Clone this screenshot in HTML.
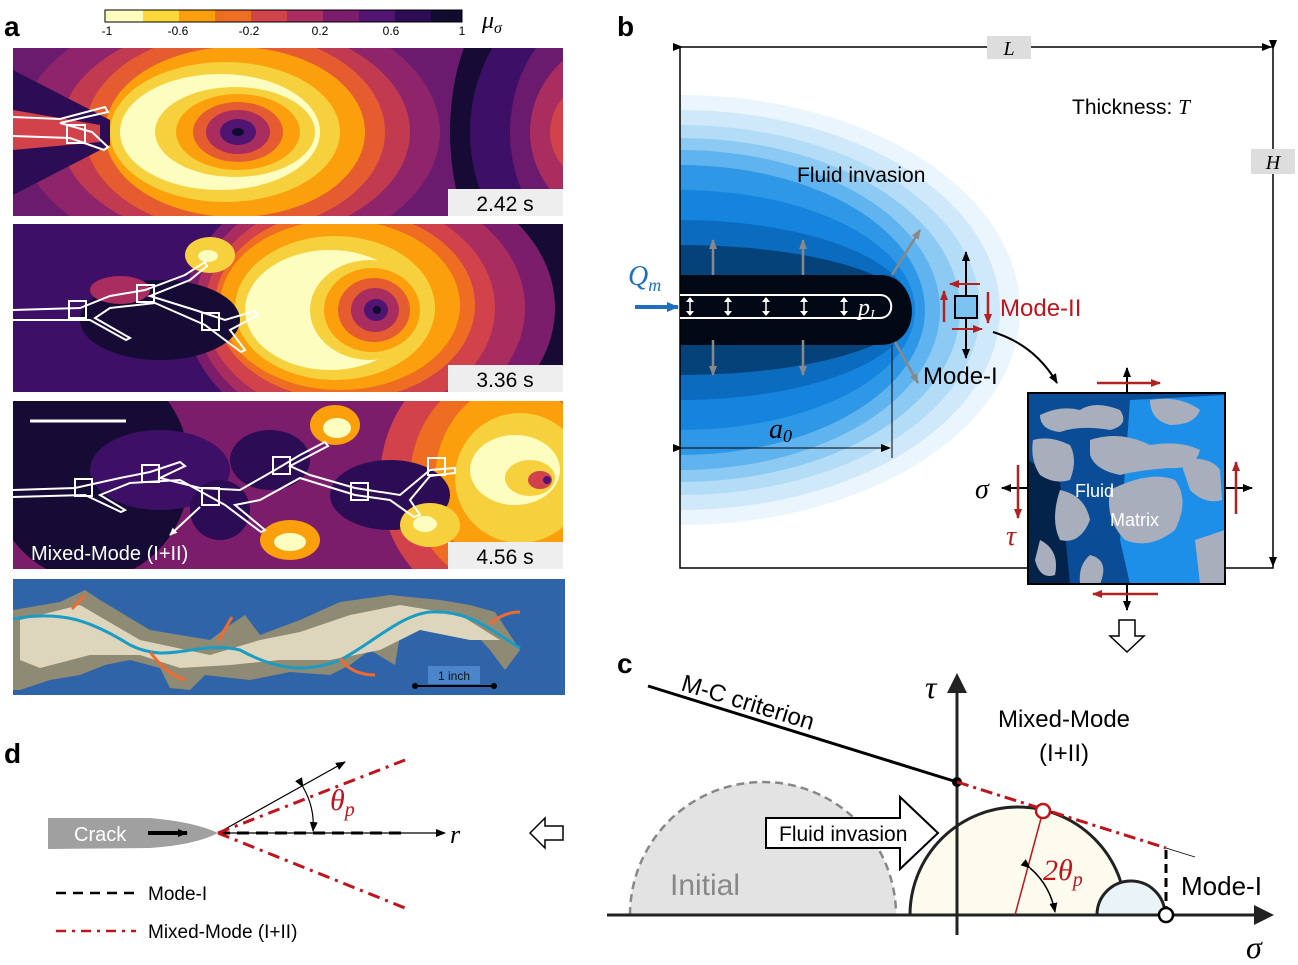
<!DOCTYPE html>
<html><head><meta charset="utf-8"><style>
html,body{margin:0;padding:0;background:#fff;}
svg{display:block;font-family:"Liberation Sans",sans-serif;}
.it{font-family:"Liberation Serif",serif;font-style:italic;}
</style></head><body>
<svg width="1298" height="965" viewBox="0 0 1298 965" xmlns="http://www.w3.org/2000/svg">
<defs>
<marker id="ah" markerWidth="10" markerHeight="8" refX="9" refY="4" orient="auto" markerUnits="userSpaceOnUse"><path d="M0,0 L10,4 L0,8 z" fill="#000"/></marker>
<marker id="ahr" markerWidth="10" markerHeight="8" refX="9" refY="4" orient="auto" markerUnits="userSpaceOnUse"><path d="M0,0 L10,4 L0,8 z" fill="#b22222"/></marker>
<marker id="ahg" markerWidth="10" markerHeight="8" refX="9" refY="4" orient="auto" markerUnits="userSpaceOnUse"><path d="M0,0 L10,4 L0,8 z" fill="#888"/></marker>
<marker id="ahw" markerWidth="8" markerHeight="7" refX="7" refY="3.5" orient="auto" markerUnits="userSpaceOnUse"><path d="M0,0 L8,3.5 L0,7 z" fill="#fff"/></marker>
<marker id="ahb" markerWidth="12" markerHeight="10" refX="11" refY="5" orient="auto" markerUnits="userSpaceOnUse"><path d="M0,0 L12,5 L0,10 z" fill="#1f6fc0"/></marker>
<clipPath id="c1"><rect x="13" y="48" width="550" height="168"/></clipPath>
<clipPath id="c2"><rect x="13" y="224" width="550" height="168"/></clipPath>
<clipPath id="c3"><rect x="13" y="401" width="550" height="168"/></clipPath>
<clipPath id="cb"><rect x="680" y="47" width="593" height="521"/></clipPath>
</defs>

<!-- panel a -->
<text x="4" y="36" font-size="28" font-weight="bold">a</text>
<g>
<rect x="105" y="10" width="38" height="12" fill="#fcfdbf"/>
<rect x="143" y="10" width="36" height="12" fill="#fbd73a"/>
<rect x="179" y="10" width="36" height="12" fill="#fba00c"/>
<rect x="215" y="10" width="36" height="12" fill="#ef6c23"/>
<rect x="251" y="10" width="36" height="12" fill="#d1424a"/>
<rect x="287" y="10" width="36" height="12" fill="#a92d5f"/>
<rect x="323" y="10" width="36" height="12" fill="#7c1d6c"/>
<rect x="359" y="10" width="36" height="12" fill="#501570"/>
<rect x="395" y="10" width="36" height="12" fill="#2c0d55"/>
<rect x="431" y="10" width="31" height="12" fill="#120b30"/>
<rect x="105" y="10" width="357" height="12" fill="none" stroke="#000" stroke-width="1"/>
<g font-size="12" text-anchor="middle"><text x="107" y="35">-1</text><text x="178" y="35">-0.6</text><text x="249" y="35">-0.2</text><text x="320" y="35">0.2</text><text x="391" y="35">0.6</text><text x="462" y="35">1</text></g>
<text x="482" y="28" font-size="24" class="it">μ<tspan font-size="16" dy="5">σ</tspan></text>
</g>

<!-- a1 -->
<g clip-path="url(#c1)">
<rect x="13" y="48" width="550" height="168" fill="#6b1b6e"/>
<ellipse cx="520" cy="132" rx="70" ry="140" fill="#150b35"/>
<ellipse cx="600" cy="132" rx="130" ry="150" fill="#3d0f66"/>
<ellipse cx="620" cy="132" rx="110" ry="130" fill="#6b1b6e"/>
<ellipse cx="640" cy="132" rx="110" ry="100" fill="#a92d5f"/>
<ellipse cx="650" cy="132" rx="100" ry="70" fill="#d1424a"/>
<ellipse cx="655" cy="132" rx="90" ry="45" fill="#ef6c23"/>
<ellipse cx="665" cy="132" rx="85" ry="20" fill="#fba00c"/>
<ellipse cx="230" cy="132" rx="210" ry="130" fill="#8e2469"/>
<ellipse cx="235" cy="132" rx="175" ry="110" fill="#c13a50"/>
<ellipse cx="235" cy="132" rx="150" ry="100" fill="#e55c30"/>
<ellipse cx="235" cy="132" rx="130" ry="85" fill="#fba00c"/>
<ellipse cx="225" cy="132" rx="115" ry="70" fill="#f7d13d"/>
<ellipse cx="220" cy="132" rx="100" ry="58" fill="#fcfdbf"/>
<ellipse cx="235" cy="132" rx="80" ry="45" fill="#f7d13d"/>
<ellipse cx="238" cy="132" rx="62" ry="38" fill="#fba00c"/>
<ellipse cx="238" cy="132" rx="45" ry="30" fill="#e55c30"/>
<ellipse cx="238" cy="132" rx="32" ry="22" fill="#a92d5f"/>
<ellipse cx="238" cy="132" rx="18" ry="13" fill="#501570"/>
<ellipse cx="238" cy="132" rx="6" ry="4" fill="#120b30"/>
<path d="M13,70 L110,120 L110,145 L13,195 Z" fill="#2c0d55"/>
<path d="M13,110 L100,125 L100,142 L13,150 Z" fill="#d1424a"/>
<path d="M13,117 L60,119 L105,107 L108,112 L60,123 L92,132 L108,147 L104,150 L70,138 L13,136" fill="none" stroke="#fff" stroke-width="2"/>
<rect x="67" y="125" width="18" height="18" fill="none" stroke="#fff" stroke-width="2"/>
</g>
<rect x="448" y="189" width="115" height="27" fill="#eee"/>
<text x="505" y="211" font-size="21" text-anchor="middle">2.42 s</text>

<!-- a2 -->
<g clip-path="url(#c2)">
<rect x="13" y="224" width="550" height="168" fill="#3d0f66"/>
<ellipse cx="540" cy="308" rx="50" ry="110" fill="#150b35"/>
<ellipse cx="370" cy="308" rx="185" ry="140" fill="#7c1d6c"/>
<ellipse cx="360" cy="308" rx="165" ry="125" fill="#a92d5f"/>
<ellipse cx="350" cy="308" rx="145" ry="110" fill="#d1424a"/>
<ellipse cx="345" cy="305" rx="130" ry="95" fill="#ef6c23"/>
<ellipse cx="340" cy="305" rx="120" ry="85" fill="#fba00c"/>
<ellipse cx="335" cy="308" rx="100" ry="72" fill="#f7d13d"/>
<ellipse cx="330" cy="310" rx="85" ry="60" fill="#fcfdbf"/>
<ellipse cx="370" cy="310" rx="60" ry="50" fill="#f7d13d"/>
<ellipse cx="372" cy="310" rx="48" ry="42" fill="#fba00c"/>
<ellipse cx="374" cy="310" rx="36" ry="32" fill="#e55c30"/>
<ellipse cx="375" cy="310" rx="24" ry="22" fill="#a92d5f"/>
<ellipse cx="376" cy="310" rx="12" ry="11" fill="#501570"/>
<ellipse cx="377" cy="310" rx="4" ry="4" fill="#120b30"/>
<ellipse cx="210" cy="255" rx="25" ry="18" fill="#f7d13d"/>
<ellipse cx="208" cy="256" rx="10" ry="6" fill="#fcfdbf"/>
<ellipse cx="160" cy="320" rx="80" ry="40" fill="#150b35"/>
<ellipse cx="120" cy="290" rx="30" ry="14" fill="#a92d5f"/>
<path d="M13,310 L80,308 L110,296 L145,290 L185,275 L205,262 L207,266 L190,280 L150,296 L195,310 L225,320 L255,311 L258,315 L230,330 L245,350 L241,352 L205,325 L155,303 L110,308 L95,318 L130,338 L126,340 L90,320 L13,320" fill="none" stroke="#fff" stroke-width="2"/>
<rect x="69" y="301" width="17" height="17" fill="none" stroke="#fff" stroke-width="2"/>
<rect x="137" y="285" width="17" height="17" fill="none" stroke="#fff" stroke-width="2"/>
<rect x="202" y="313" width="17" height="17" fill="none" stroke="#fff" stroke-width="2"/>
</g>
<rect x="448" y="365" width="115" height="27" fill="#eee"/>
<text x="505" y="387" font-size="21" text-anchor="middle">3.36 s</text>

<!-- a3 -->
<g clip-path="url(#c3)">
<rect x="13" y="401" width="550" height="168" fill="#7c1d6c"/>
<ellipse cx="90" cy="470" rx="100" ry="110" fill="#150b35"/>
<ellipse cx="160" cy="470" rx="70" ry="40" fill="#3d0f66"/>
<ellipse cx="500" cy="480" rx="120" ry="130" fill="#d1424a"/>
<ellipse cx="510" cy="480" rx="100" ry="110" fill="#ef6c23"/>
<ellipse cx="515" cy="480" rx="80" ry="95" fill="#fba00c"/>
<ellipse cx="520" cy="478" rx="65" ry="65" fill="#f7d13d"/>
<ellipse cx="515" cy="470" rx="45" ry="35" fill="#fcfdbf"/>
<ellipse cx="530" cy="478" rx="25" ry="18" fill="#f7d13d"/>
<ellipse cx="540" cy="480" rx="12" ry="9" fill="#d1424a"/>
<ellipse cx="547" cy="480" rx="4" ry="4" fill="#501570"/>
<ellipse cx="270" cy="460" rx="40" ry="30" fill="#2c0d55"/>
<ellipse cx="390" cy="495" rx="60" ry="35" fill="#2c0d55"/>
<ellipse cx="220" cy="510" rx="30" ry="30" fill="#2c0d55"/>
<ellipse cx="335" cy="425" rx="25" ry="20" fill="#fba00c"/>
<ellipse cx="337" cy="428" rx="14" ry="10" fill="#fcfdbf"/>
<ellipse cx="290" cy="540" rx="30" ry="20" fill="#fba00c"/>
<ellipse cx="290" cy="542" rx="16" ry="9" fill="#fcfdbf"/>
<ellipse cx="430" cy="525" rx="30" ry="22" fill="#f7d13d"/>
<ellipse cx="425" cy="524" rx="12" ry="8" fill="#fcfdbf"/>
<path d="M13,490 L75,488 L120,478 L150,472 L180,462 L185,466 L160,478 L200,488 L240,490 L275,470 L300,455 L325,442 L328,446 L290,466 L310,475 L355,488 L400,495 L430,470 L455,468 L455,473 L430,476 L410,500 L420,515 L414,517 L390,500 L355,495 L300,478 L260,500 L235,505 L265,530 L261,532 L225,505 L180,480 L130,483 L100,495 L125,510 L121,512 L85,495 L13,497" fill="none" stroke="#fff" stroke-width="2"/>
<rect x="75" y="479" width="17" height="17" fill="none" stroke="#fff" stroke-width="2"/>
<rect x="142" y="465" width="17" height="17" fill="none" stroke="#fff" stroke-width="2"/>
<rect x="202" y="488" width="17" height="17" fill="none" stroke="#fff" stroke-width="2"/>
<rect x="273" y="457" width="17" height="17" fill="none" stroke="#fff" stroke-width="2"/>
<rect x="351" y="483" width="17" height="17" fill="none" stroke="#fff" stroke-width="2"/>
<rect x="428" y="458" width="17" height="17" fill="none" stroke="#fff" stroke-width="2"/>
<line x1="30" y1="421" x2="126" y2="421" stroke="#fff" stroke-width="3"/>
<line x1="200" y1="507" x2="170" y2="535" stroke="#fff" stroke-width="2" marker-end="url(#ahw)"/>
</g>
<text x="31" y="560" font-size="20" fill="#fff">Mixed-Mode (I+II)</text>
<rect x="448" y="542" width="115" height="27" fill="#eee"/>
<text x="505" y="564" font-size="21" text-anchor="middle">4.56 s</text>

<!-- photo -->
<rect x="13" y="579" width="552" height="116" fill="#2f64a8"/>
<path d="M13,610 L60,602 L85,590 L100,600 L150,630 L210,640 L230,625 L245,615 L260,635 L300,620 L340,602 L390,595 L440,600 L470,605 L495,612 L520,650 L505,670 L490,650 L470,628 L445,620 L400,635 L395,665 L370,650 L350,665 L330,675 L290,672 L250,680 L205,675 L190,690 L170,688 L160,668 L130,660 L105,665 L80,675 L50,680 L20,690 L13,690 Z" fill="#8f8a73"/>
<path d="M20,620 L80,605 L140,640 L210,655 L260,640 L300,632 L350,615 L400,605 L460,615 L500,640 L470,640 L420,630 L380,650 L330,660 L280,660 L230,665 L180,668 L140,655 L90,655 L40,668 L20,660 Z" fill="#ddd6bd"/>
<path d="M13,619 C60,610 90,620 130,645 C170,665 195,640 240,650 C280,672 310,672 340,660 C370,645 400,615 430,612 C470,610 490,630 520,648" fill="none" stroke="#1b9cc4" stroke-width="3"/>
<path d="M72,609 L85,595" stroke="#f06a30" stroke-width="3"/>
<path d="M150,652 C160,665 170,675 185,680" fill="none" stroke="#f06a30" stroke-width="3"/>
<path d="M218,641 L232,617" stroke="#f06a30" stroke-width="3"/>
<path d="M340,658 C348,670 360,675 375,675" fill="none" stroke="#f06a30" stroke-width="3"/>
<path d="M490,624 C500,615 510,612 520,612" fill="none" stroke="#f06a30" stroke-width="3"/>
<rect x="428" y="666" width="52" height="18" fill="#4a86c9"/>
<text x="454" y="680" font-size="12" text-anchor="middle" fill="#111">1 inch</text>
<line x1="415" y1="686" x2="494" y2="686" stroke="#000" stroke-width="2"/>
<circle cx="415" cy="686" r="3"/><circle cx="494" cy="686" r="3"/>

<!-- panel b -->
<text x="617" y="36" font-size="28" font-weight="bold">b</text>
<g clip-path="url(#cb)">
<ellipse cx="680" cy="310" rx="340" ry="215" fill="#eaf5fd"/>
<ellipse cx="680" cy="310" rx="320" ry="200" fill="#d0e9fa"/>
<ellipse cx="680" cy="310" rx="300" ry="185" fill="#b3dcf7"/>
<ellipse cx="680" cy="310" rx="280" ry="172" fill="#8ccaf3"/>
<ellipse cx="680" cy="310" rx="260" ry="160" fill="#5fb3ee"/>
<ellipse cx="680" cy="310" rx="245" ry="145" fill="#2f98e6"/>
<ellipse cx="680" cy="310" rx="235" ry="120" fill="#1484de"/>
<ellipse cx="680" cy="310" rx="232" ry="90" fill="#0a6bbf"/>
<ellipse cx="680" cy="310" rx="230" ry="65" fill="#06427a"/>
<path d="M680,275 L880,275 C920,275 925,345 880,345 L680,345 Z" fill="#020814"/>
</g>
<rect x="680" y="47" width="593" height="521" fill="none" stroke="#000" stroke-width="1.5"/>
<!-- crack -->
<path d="M680,295 L880,295 C895,295 895,318 880,318 L680,318" fill="none" stroke="#fff" stroke-width="2"/>
<g stroke="#fff" stroke-width="1.5">
<line x1="690" y1="300" x2="690" y2="313"/><line x1="728" y1="300" x2="728" y2="313"/><line x1="766" y1="300" x2="766" y2="313"/><line x1="804" y1="300" x2="804" y2="313"/><line x1="844" y1="300" x2="844" y2="313"/>
</g>
<g fill="#fff">
<path d="M686,302 l4,-5 l4,5z M686,311 l4,5 l4,-5z"/><path d="M724,302 l4,-5 l4,5z M724,311 l4,5 l4,-5z"/><path d="M762,302 l4,-5 l4,5z M762,311 l4,5 l4,-5z"/><path d="M800,302 l4,-5 l4,5z M800,311 l4,5 l4,-5z"/><path d="M840,302 l4,-5 l4,5z M840,311 l4,5 l4,-5z"/>
</g>
<text x="858" y="315" font-size="24" fill="#fff" class="it">p<tspan font-size="14" dy="4">I</tspan></text>
<g stroke="#888" stroke-width="2.5">
<line x1="713" y1="275" x2="713" y2="240" marker-end="url(#ahg)"/><line x1="803" y1="275" x2="803" y2="240" marker-end="url(#ahg)"/>
<line x1="713" y1="340" x2="713" y2="375" marker-end="url(#ahg)"/><line x1="803" y1="340" x2="803" y2="375" marker-end="url(#ahg)"/>
<line x1="892" y1="275" x2="920" y2="230" marker-end="url(#ahg)"/><line x1="895" y1="342" x2="918" y2="383" marker-end="url(#ahg)"/>
</g>
<line x1="635" y1="307" x2="678" y2="307" stroke="#1f6fc0" stroke-width="4" marker-end="url(#ahb)"/>
<text x="628" y="285" font-size="28" fill="#1f6fc0" class="it">Q<tspan font-size="18" dy="6">m</tspan></text>
<text x="797" y="182" font-size="21">Fluid invasion</text>
<line x1="892" y1="345" x2="892" y2="458" stroke="#000" stroke-width="1"/>
<line x1="682" y1="448" x2="890" y2="448" stroke="#000" stroke-width="1" marker-start="url(#ah)" marker-end="url(#ah)"/>
<text x="769" y="438" font-size="28" class="it">a<tspan font-size="18" dy="4">0</tspan></text>
<!-- element -->
<line x1="966" y1="297" x2="966" y2="252" stroke="#000" stroke-width="2" marker-end="url(#ah)"/>
<line x1="966" y1="318" x2="966" y2="358" stroke="#000" stroke-width="2" marker-end="url(#ah)"/>
<rect x="955" y="296" width="22" height="22" fill="#7cc3f2" stroke="#000" stroke-width="2"/>
<line x1="980" y1="284" x2="950" y2="284" stroke="#b22222" stroke-width="2" marker-end="url(#ahr)"/>
<line x1="952" y1="329" x2="982" y2="329" stroke="#b22222" stroke-width="2" marker-end="url(#ahr)"/>
<line x1="944" y1="322" x2="944" y2="291" stroke="#b22222" stroke-width="2.5" marker-end="url(#ahr)"/>
<line x1="988" y1="292" x2="988" y2="323" stroke="#b22222" stroke-width="2.5" marker-end="url(#ahr)"/>
<text x="1000" y="316" font-size="24" fill="#c0141c">Mode-II</text>
<text x="923" y="384" font-size="24">Mode-I</text>
<path d="M993,332 Q1035,345 1057,383" fill="none" stroke="#000" stroke-width="2" marker-end="url(#ah)"/>
<text x="1072" y="114" font-size="21">Thickness: <tspan class="it">T</tspan></text>
<line x1="682" y1="47" x2="1271" y2="47" stroke="#000" stroke-width="1" marker-start="url(#ah)" marker-end="url(#ah)"/>
<rect x="987" y="36" width="44" height="23" fill="#ddd"/>
<text x="1009" y="55" font-size="20" text-anchor="middle" class="it">L</text>
<line x1="1273" y1="49" x2="1273" y2="566" stroke="#000" stroke-width="1" marker-start="url(#ah)" marker-end="url(#ah)"/>
<rect x="1251" y="149" width="44" height="25" fill="#ddd"/>
<text x="1273" y="169" font-size="20" text-anchor="middle" class="it">H</text>
<!-- inset -->
<rect x="1028" y="393" width="197" height="191" fill="#0a4d96"/>
<path d="M1130,400 L1225,395 L1225,584 L1130,584 L1120,540 Z" fill="#1d8fe8"/>
<path d="M1028,460 L1060,480 L1070,584 L1028,584 Z" fill="#04234b"/>
<g fill="#a8aebb">
<path d="M1040,415 Q1060,405 1080,410 Q1095,400 1120,410 Q1130,425 1110,430 Q1080,425 1060,432 Q1040,430 1040,415Z"/>
<path d="M1033,440 Q1050,435 1070,445 Q1078,460 1070,480 Q1055,485 1040,475 Q1030,460 1033,440Z"/>
<path d="M1090,440 Q1120,430 1150,445 Q1180,440 1200,450 Q1195,470 1170,468 Q1140,470 1120,475 Q1095,470 1090,455Z"/>
<path d="M1110,490 Q1150,470 1175,480 Q1190,500 1175,530 Q1150,550 1125,540 Q1105,520 1110,490Z"/>
<path d="M1150,400 Q1180,395 1200,410 Q1195,425 1170,425 Q1150,420 1150,400Z"/>
<path d="M1180,460 Q1210,455 1220,470 L1222,500 Q1205,505 1190,490Z"/>
<path d="M1060,490 Q1085,495 1090,520 Q1080,545 1060,540 Q1050,520 1060,490Z"/>
<path d="M1040,540 Q1060,550 1055,575 Q1040,580 1035,560Z"/>
<path d="M1090,555 Q1110,560 1100,584 L1080,584 Q1078,565 1090,555Z"/>
<path d="M1195,540 L1225,530 L1225,584 L1200,584Z"/>
</g>
<text x="1075" y="497" font-size="18" fill="#fff">Fluid</text>
<text x="1110" y="526" font-size="18" fill="#fff">Matrix</text>
<rect x="1028" y="393" width="197" height="191" fill="none" stroke="#000" stroke-width="2"/>
<line x1="1127" y1="393" x2="1127" y2="368" stroke="#000" stroke-width="2" marker-end="url(#ah)"/>
<line x1="1127" y1="584" x2="1127" y2="610" stroke="#000" stroke-width="2" marker-end="url(#ah)"/>
<line x1="1028" y1="488" x2="1002" y2="488" stroke="#000" stroke-width="2" marker-end="url(#ah)"/>
<line x1="1225" y1="488" x2="1252" y2="488" stroke="#000" stroke-width="2" marker-end="url(#ah)"/>
<line x1="1097" y1="383" x2="1160" y2="383" stroke="#b22222" stroke-width="2.5" marker-end="url(#ahr)"/>
<line x1="1158" y1="594" x2="1093" y2="594" stroke="#b22222" stroke-width="2.5" marker-end="url(#ahr)"/>
<line x1="1236" y1="514" x2="1236" y2="462" stroke="#b22222" stroke-width="2.5" marker-end="url(#ahr)"/>
<line x1="1018" y1="465" x2="1018" y2="518" stroke="#b22222" stroke-width="2.5" marker-end="url(#ahr)"/>
<text x="975" y="498" font-size="28" class="it">σ</text>
<text x="1006" y="545" font-size="28" fill="#b22222" class="it">τ</text>
<path d="M1119,620 L1135,620 L1135,636 L1144,636 L1127,652 L1110,636 L1119,636 Z" fill="#fff" stroke="#000" stroke-width="1.5"/>

<!-- panel c -->
<text x="617" y="673" font-size="28" font-weight="bold">c</text>
<path d="M630,915 A133,133 0 0 1 896,915 Z" fill="#e3e3e3"/>
<path d="M630,915 A133,133 0 0 1 896,915" fill="none" stroke="#888" stroke-width="2.5" stroke-dasharray="8,5"/>
<text x="670" y="895" font-size="30" fill="#888">Initial</text>
<path d="M910,915 A108,108 0 0 1 1126,915 Z" fill="#fdfbee" stroke="#222" stroke-width="3"/>
<path d="M1097,915 A34,34 0 0 1 1165,915 Z" fill="#eaf4f8" stroke="#222" stroke-width="3"/>
<line x1="607" y1="915" x2="1258" y2="915" stroke="#222" stroke-width="3"/>
<path d="M1254,905 L1274,915 L1254,925 Z" fill="#222"/>
<line x1="957" y1="935" x2="957" y2="690" stroke="#222" stroke-width="3"/>
<path d="M947,693 L957,673 L967,693 Z" fill="#222"/>
<text x="925" y="698" font-size="32" class="it">τ</text>
<text x="1246" y="958" font-size="32" class="it">σ</text>
<line x1="648" y1="686" x2="957" y2="782" stroke="#000" stroke-width="3"/>
<text x="0" y="0" font-size="24" transform="translate(680,690) rotate(17)">M-C criterion</text>
<circle cx="957" cy="782" r="5" fill="#000"/>
<line x1="957" y1="782" x2="1166" y2="848" stroke="#c0141c" stroke-width="3" stroke-dasharray="12,5,3,5"/>
<line x1="1166" y1="848" x2="1195" y2="857" stroke="#000" stroke-width="0.8"/>
<line x1="1166" y1="850" x2="1166" y2="912" stroke="#000" stroke-width="3" stroke-dasharray="9,5"/>
<circle cx="1166" cy="915" r="7" fill="#fff" stroke="#000" stroke-width="2.5"/>
<line x1="1043" y1="811" x2="1015" y2="915" stroke="#c0141c" stroke-width="1.5"/>
<circle cx="1043" cy="811" r="7" fill="#fff" stroke="#c0141c" stroke-width="2.5"/>
<path d="M1030,868 Q1050,885 1055,912" fill="none" stroke="#000" stroke-width="1.5" marker-start="url(#ah)" marker-end="url(#ah)"/>
<text x="1043" y="880" font-size="30" fill="#c0141c" class="it">2θ<tspan font-size="20" dy="6">p</tspan></text>
<text x="1064" y="727" font-size="24" text-anchor="middle">Mixed-Mode</text>
<text x="1064" y="761" font-size="24" text-anchor="middle">(I+II)</text>
<text x="1181" y="895" font-size="26">Mode-I</text>
<path d="M766,818 L900,818 L900,797 L938,833 L900,869 L900,848 L766,848 Z" fill="#fff" stroke="#000" stroke-width="2"/>
<text x="779" y="841" font-size="21">Fluid invasion</text>

<!-- panel d -->
<text x="4" y="763" font-size="28" font-weight="bold">d</text>
<path d="M48,818 L150,818 Q195,822 218,833 Q195,845 150,848 L48,849 Z" fill="#a0a0a0"/>
<text x="74" y="841" font-size="20" fill="#fff">Crack</text>
<line x1="148" y1="833" x2="187" y2="833" stroke="#000" stroke-width="4" marker-end="url(#ah)"/>
<line x1="218" y1="833" x2="445" y2="833" stroke="#000" stroke-width="1.2" marker-end="url(#ah)"/>
<line x1="218" y1="833" x2="405" y2="833" stroke="#000" stroke-width="3" stroke-dasharray="12,7"/>
<line x1="218" y1="833" x2="345" y2="762" stroke="#000" stroke-width="1.2" marker-end="url(#ah)"/>
<line x1="218" y1="833" x2="405" y2="760" stroke="#c0141c" stroke-width="3" stroke-dasharray="12,6,3,6"/>
<line x1="218" y1="833" x2="405" y2="908" stroke="#c0141c" stroke-width="3" stroke-dasharray="12,6,3,6"/>
<path d="M303,787 Q315,808 313,831" fill="none" stroke="#000" stroke-width="1.2" marker-start="url(#ah)" marker-end="url(#ah)"/>
<text x="330" y="810" font-size="30" fill="#c0141c" class="it">θ<tspan font-size="20" dy="6">p</tspan></text>
<text x="450" y="843" font-size="26" class="it">r</text>
<path d="M530,833 L545,818 L545,826 L563,826 L563,840 L545,840 L545,848 Z" fill="#fff" stroke="#000" stroke-width="1.5"/>
<line x1="56" y1="893" x2="136" y2="893" stroke="#000" stroke-width="2.5" stroke-dasharray="10,7"/>
<text x="148" y="900" font-size="19">Mode-I</text>
<line x1="56" y1="931" x2="136" y2="931" stroke="#c0141c" stroke-width="2.5" stroke-dasharray="10,6,3,6"/>
<text x="148" y="938" font-size="19">Mixed-Mode (I+II)</text>
</svg>
</body></html>
